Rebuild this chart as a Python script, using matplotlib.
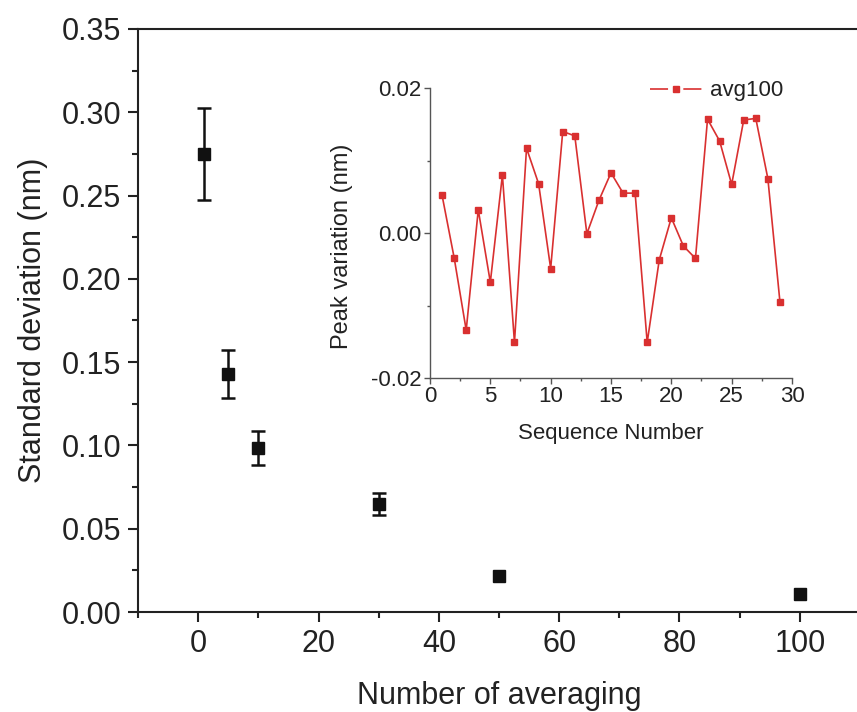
import matplotlib
matplotlib.use("Agg")
import matplotlib.pyplot as plt
from matplotlib.lines import Line2D
from matplotlib.ticker import MultipleLocator, FormatStrFormatter

plt.rcParams['font.family'] = ['Liberation Sans', 'DejaVu Sans']
plt.rcParams['lines.scale_dashes'] = False

# Main data
n_avg = [1, 5, 10, 30, 50, 100]
std_dev = [0.275, 0.143, 0.0985, 0.0648, 0.0218, 0.0108]
std_err = [0.0275, 0.0145, 0.0101, 0.0066, 0.0, 0.0]

# Inset data
seq = list(range(1, 30))
peak_var = [0.0052, -0.0034, -0.0134, 0.0032, -0.0068, 0.0080, -0.0151, 0.0117,
            0.0068, -0.0049, 0.0140, 0.0134, -0.0001, 0.0045, 0.0083, 0.0055,
            0.0055, -0.0151, -0.0037, 0.0021, -0.0018, -0.0035, 0.0157, 0.0127,
            0.0067, 0.0156, 0.0158, 0.0075, -0.0095]

W, H = 857, 712
fig = plt.figure(figsize=(W / 100, H / 100), dpi=100)

def box(l, t, r, b):
    return [l / W, 1 - b / H, (r - l) / W, (b - t) / H]

dark = '#222222'
ax = fig.add_axes(box(138, 29, 860, 612))
ax.plot(n_avg, std_dev, 's', color='#111111', ms=9, zorder=3)
idx = [i for i, e in enumerate(std_err) if e > 0]
ax.errorbar([n_avg[i] for i in idx], [std_dev[i] for i in idx],
            yerr=[std_err[i] for i in idx], fmt='none', ecolor='#111111',
            elinewidth=1.8, capsize=5, capthick=1.8, zorder=2)
ax.set_xlim(-10, 110)
ax.set_ylim(0, 0.35)
ax.xaxis.set_major_locator(MultipleLocator(20))
ax.xaxis.set_minor_locator(MultipleLocator(10))
ax.yaxis.set_major_locator(MultipleLocator(0.05))
ax.yaxis.set_minor_locator(MultipleLocator(0.025))
ax.yaxis.set_major_formatter(FormatStrFormatter('%.2f'))
for s in ['left', 'bottom', 'top']:
    ax.spines[s].set_linewidth(1.5)
    ax.spines[s].set_color(dark)
ax.spines['right'].set_visible(False)
ax.tick_params(which='major', direction='out', length=7, width=1.5,
               labelsize=22, pad=5, color=dark, labelcolor=dark)
ax.tick_params(which='minor', direction='out', length=4, width=1.5, color=dark)
ax.tick_params(top=False, which='both')
ax.set_xlabel('Number of averaging', fontsize=22, labelpad=16, color=dark)
ax.set_ylabel('Standard deviation (nm)', fontsize=22, labelpad=10, color=dark)

# Inset
red = '#d93030'
ax2 = fig.add_axes(box(430, 88, 792, 378))
ax2.plot(seq, peak_var, '-s', color=red, lw=1.2, ms=4.5)
ax2.set_xlim(0, 30)
ax2.set_ylim(-0.02, 0.02)
ax2.xaxis.set_major_locator(MultipleLocator(5))
ax2.xaxis.set_minor_locator(MultipleLocator(2.5))
ax2.yaxis.set_major_locator(MultipleLocator(0.02))
ax2.yaxis.set_minor_locator(MultipleLocator(0.01))
ax2.yaxis.set_major_formatter(FormatStrFormatter('%.2f'))
ax2.spines['top'].set_visible(False)
ax2.spines['right'].set_visible(False)
for s in ['left', 'bottom']:
    ax2.spines[s].set_color('#555555')
    ax2.spines[s].set_linewidth(1.0)
ax2.patch.set_alpha(0)
ax2.tick_params(which='major', direction='out', length=4, width=1.0,
                labelsize=16, pad=2, color='#555555', labelcolor=dark)
ax2.tick_params(which='minor', direction='out', length=2.5, width=1.0, color='#555555')
ax2.set_xlabel('Sequence Number', fontsize=16, color=dark)
ax2.set_ylabel('Peak variation (nm)', fontsize=17, color=dark)
ax2.xaxis.set_label_coords(0.5, -0.155)
ax2.yaxis.set_label_coords(-0.213, 0.455)

handle = Line2D([], [], color=red, lw=1.2, ls=(0, (13, 11)), marker='s', ms=4.5)
ax2.legend([handle], ['avg100'], loc='center left', bbox_to_anchor=(0.608, 0.99),
           frameon=False, fontsize=16, handlelength=38 / 16, handletextpad=0.32,
           borderpad=0, borderaxespad=0, labelcolor=dark)

fig.savefig('out.png', dpi=100)
